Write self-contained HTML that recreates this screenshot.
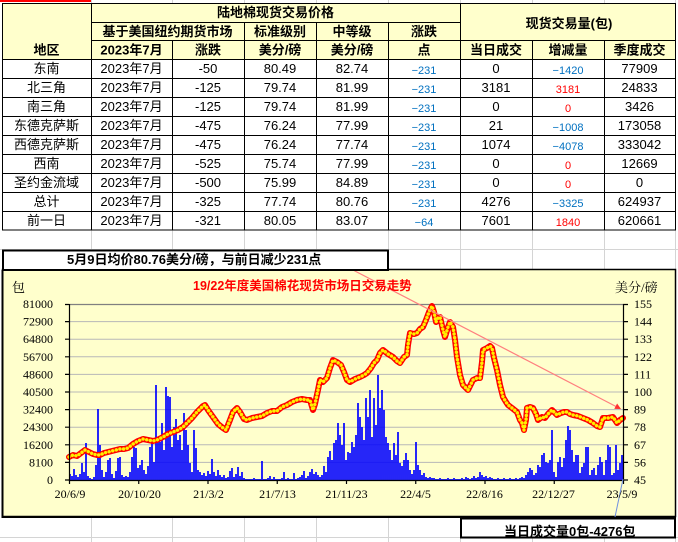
<!DOCTYPE html>
<html><head><meta charset="utf-8"><style>
html,body{margin:0;padding:0;background:#fff;width:678px;height:542px;overflow:hidden}
svg{display:block}
.t{font-family:"Liberation Sans","Noto Sans CJK SC",sans-serif;font-size:13px;fill:#000}
.b{font-weight:bold}
.s{font-family:"Liberation Sans","Noto Sans CJK SC",sans-serif;font-size:11px}
.ax{font-family:"Liberation Serif","Noto Serif CJK SC",serif;font-size:12px;fill:#000}
</style></head><body>
<svg width="678" height="542" viewBox="0 0 678 542" xmlns="http://www.w3.org/2000/svg">
<defs>
<polyline id="pl" fill="none" points="69,457 73,455 77,456 81,453 85,450 89,452 93,454 97,455 100,455 104,453 108,452 112,451 116,450 120,449 124,449 128,448 133,444 138,441 143,439 148,440 153,441 157,440 163,437 168,434 173,432 178,430 183,427 187,423 192,418 197,412 203,406 205,405 208,410 213,417 218,424 223,428 226,430 230,420 233,412 237,408 240,412 244,419 247,420 252,418 257,417 262,416 267,413 272,411 277,411 282,407 287,405 292,402 297,400 302,399 307,400 310,400 313,410 315,404 318,390 320,380 323,382 327,378 330,368 333,360 337,362 341,365 344,372 347,380 350,382 355,379 360,377 364,375 367,373 371,368 374,363 377,360 380,353 383,350 388,354 393,357 397,361 400,363 404,357 407,355 408,345 410,333 414,334 417,333 420,329 423,327 426,320 429,312 432,306 434,312 436,322 438,318 440,317 443,330 445,337 448,327 450,322 453,327 455,340 457,357 460,375 463,385 465,387 468,390 471,384 473,380 477,378 480,378 482,362 483,350 487,348 490,346 492,348 494,358 497,370 500,385 503,397 506,402 508,405 512,408 517,412 520,420 522,423 524,430 526,420 527,408 530,407 533,408 536,414 538,420 542,417 545,418 548,414 552,410 555,413 557,415 561,413 564,412 567,412 570,414 573,415 578,416 583,418 588,420 593,423 597,426 600,427 603,418 608,418 613,417 615,420 617,423 620,420 623,418"/>
</defs>
<!-- spreadsheet gridlines -->
<g stroke="#d4d4d4" stroke-width="1">
<path d="M91.5 0V542M172.5 0V542M244.5 0V542M316.5 0V542M388.5 0V542M460.5 0V542M532.5 0V542M604.5 0V542M675.5 0V542"/>
<path d="M0 249.5H678M0 537.5H678"/>
</g>
<rect x="0" y="0" width="91" height="2" fill="#ff0000"/>
<!-- table header fill -->
<rect x="2.5" y="3.5" width="673" height="55.5" fill="#ffffcc"/>
<rect x="2.5" y="59" width="673" height="171" fill="#ffffff"/>
<!-- table lines -->
<g stroke="#000" stroke-width="1" fill="none">
<rect x="2.5" y="3.5" width="673" height="226.5"/>
<path d="M91.5 3V230M460.5 3V230"/>
<path d="M172.5 40V230M244.5 22V230M316.5 22V230M388.5 22V230M532.5 40V230M604.5 40V230"/>
<path d="M91 22.5H460M91 40.5H676"/>
<path d="M2 59.5H676M2 78.5H676M2 97.5H676M2 116.5H676M2 135.5H676M2 154.5H676M2 173.5H676M2 192.5H676M2 211.5H676"/>
</g>
<!-- header text -->
<g class="t b" text-anchor="middle">
<text x="275.5" y="17">陆地棉现货交易价格</text>
<text x="569" y="28">现货交易量(包)</text>
<text x="167.5" y="36">基于美国纽约期货市场</text>
<text x="280" y="36">标准级别</text>
<text x="352" y="36">中等级</text>
<text x="424" y="36">涨跌</text>
<text x="46.5" y="54.5">地区</text>
<text x="131.5" y="54.5">2023年7月</text>
<text x="208" y="54.5">涨跌</text>
<text x="280" y="54.5">美分/磅</text>
<text x="352" y="54.5">美分/磅</text>
<text x="424" y="54.5">点</text>
<text x="496" y="54.5">当日成交</text>
<text x="568" y="54.5">增减量</text>
<text x="639.5" y="54.5">季度成交</text>
</g>
<!-- data -->
<g class="t" text-anchor="middle">
<text x="46.5" y="73">东南</text><text x="131.5" y="73">2023年7月</text><text x="208" y="73">-50</text><text x="280" y="73">80.49</text><text x="352" y="73">82.74</text><text x="496" y="73">0</text><text x="639.5" y="73">77909</text>
<text x="46.5" y="92">北三角</text><text x="131.5" y="92">2023年7月</text><text x="208" y="92">-125</text><text x="280" y="92">79.74</text><text x="352" y="92">81.99</text><text x="496" y="92">3181</text><text x="639.5" y="92">24833</text>
<text x="46.5" y="111">南三角</text><text x="131.5" y="111">2023年7月</text><text x="208" y="111">-125</text><text x="280" y="111">79.74</text><text x="352" y="111">81.99</text><text x="496" y="111">0</text><text x="639.5" y="111">3426</text>
<text x="46.5" y="130">东德克萨斯</text><text x="131.5" y="130">2023年7月</text><text x="208" y="130">-475</text><text x="280" y="130">76.24</text><text x="352" y="130">77.99</text><text x="496" y="130">21</text><text x="639.5" y="130">173058</text>
<text x="46.5" y="149">西德克萨斯</text><text x="131.5" y="149">2023年7月</text><text x="208" y="149">-475</text><text x="280" y="149">76.24</text><text x="352" y="149">77.74</text><text x="496" y="149">1074</text><text x="639.5" y="149">333042</text>
<text x="46.5" y="168">西南</text><text x="131.5" y="168">2023年7月</text><text x="208" y="168">-525</text><text x="280" y="168">75.74</text><text x="352" y="168">77.99</text><text x="496" y="168">0</text><text x="639.5" y="168">12669</text>
<text x="46.5" y="187">圣约金流域</text><text x="131.5" y="187">2023年7月</text><text x="208" y="187">-500</text><text x="280" y="187">75.99</text><text x="352" y="187">84.89</text><text x="496" y="187">0</text><text x="639.5" y="187">0</text>
<text x="46.5" y="206">总计</text><text x="131.5" y="206">2023年7月</text><text x="208" y="206">-325</text><text x="280" y="206">77.74</text><text x="352" y="206">80.76</text><text x="496" y="206">4276</text><text x="639.5" y="206">624937</text>
<text x="46.5" y="225">前一日</text><text x="131.5" y="225">2023年7月</text><text x="208" y="225">-321</text><text x="280" y="225">80.05</text><text x="352" y="225">83.07</text><text x="496" y="225">7601</text><text x="639.5" y="225">620661</text>
</g>
<g class="s" text-anchor="middle" fill="#0070c0">
<text x="424" y="74">−231</text><text x="424" y="93">−231</text><text x="424" y="112">−231</text><text x="424" y="131">−231</text><text x="424" y="150">−231</text><text x="424" y="169">−231</text><text x="424" y="188">−231</text><text x="424" y="207">−231</text><text x="424" y="226">−64</text>
<text x="568" y="74">−1420</text><text x="568" y="131">−1008</text><text x="568" y="150">−4078</text><text x="568" y="207">−3325</text>
</g>
<g class="s" text-anchor="middle" fill="#ff0000">
<text x="568" y="93">3181</text><text x="568" y="112">0</text><text x="568" y="169">0</text><text x="568" y="188">0</text><text x="568" y="226">1840</text>
</g>

<!-- chart -->
<rect x="2.5" y="269.5" width="673" height="247" fill="#ffffcc" stroke="#000" stroke-width="1.5"/>
<path d="M2.5 270V517H676" stroke="#000" stroke-width="2" fill="none"/>
<!-- gridlines -->
<g stroke="#b8b8b8" stroke-width="1">
<path d="M69 321.6H623M69 339.2H623M69 356.8H623M69 374.4H623M69 392H623M69 409.6H623M69 427.2H623M69 444.8H623M69 462.4H623"/>
</g>
<path d="M69 304.5H623" stroke="#808080" stroke-width="1.2"/>
<!-- bars -->
<path stroke="#0000ff" stroke-width="1.7" fill="none" d="M70 474V480M72 476V480M74 469V480M76 475V480M78 477V480M80 474V480M82 463V480M84 472V480M86 443V480M88 476V480M90 478V480M92 479V480M94 477V480M96 465V480M98 409V480M100 445V480M102 470V480M104 477V480M106 472V480M108 460V480M110 458V480M112 474V480M114 478V480M116 471V480M118 458V480M120 457V480M122 475V480M124 477V480M126 476V480M128 477V480M130 472V480M132 457V480M134 447V480M136 448V480M138 468V480M140 465V480M142 460V480M144 470V480M146 474V480M148 466V480M150 447V480M152 443V480M154 462V480M156 385V480M158 440V480M160 442V480M162 423V480M164 450V480M166 387V480M168 396V480M170 397V480M172 447V480M174 427V480M176 419V480M178 440V480M180 435V480M182 450V480M184 413V480M186 430V480M188 445V480M190 463V480M192 472V480M194 430V480M196 448V480M198 470V480M200 472V480M202 475V480M204 473V480M206 476V480M208 471V480M210 474V480M212 459V480M214 472V480M216 476V480M218 470V480M220 475V480M222 477V480M224 475V480M226 478V480M228 477V480M230 471V480M232 468V480M234 477V480M236 474V480M238 467V480M240 476V480M242 472V480M244 478V480M246 479V480M248 479V480M250 479V480M252 479V480M254 478V480M256 479V480M258 479V480M260 479V480M262 461V480M264 479V480M266 479V480M268 478V480M270 476V480M272 479V480M274 477V480M276 479V480M278 479V480M280 479V480M282 478V480M284 472V480M286 479V480M288 478V480M290 479V480M292 479V480M294 473V480M296 479V480M298 478V480M300 477V480M302 475V480M304 471V480M306 478V480M308 476V480M310 472V480M312 469V480M314 474V480M316 472V480M318 475V480M320 477V480M322 475V480M324 466V480M326 472V480M328 457V480M330 451V480M332 460V480M334 443V480M336 440V480M338 423V480M340 435V480M342 445V480M344 423V480M346 460V480M348 452V480M350 453V480M352 442V480M354 447V480M356 435V480M358 403V480M360 417V480M362 427V480M364 440V480M366 398V480M368 417V480M370 390V480M372 437V480M374 398V480M376 425V480M378 375V480M380 408V480M382 390V480M384 410V480M386 437V480M388 443V480M390 450V480M392 460V480M394 443V480M396 455V480M398 432V480M400 463V480M402 466V480M404 460V480M406 453V480M408 460V480M410 470V480M412 474V480M414 470V480M416 442V480M418 465V480M420 470V480M422 475V480M424 473V480M426 477V480M428 478V480M430 477V480M432 478V480M434 478V480M436 479V480M438 479V480M440 478V480M442 479V480M444 479V480M446 479V480M448 478V480M450 479V480M452 479V480M454 478V480M456 479V480M458 479V480M460 479V480M462 478V480M464 479V480M466 477V480M468 478V480M470 479V480M472 478V480M474 476V480M476 478V480M478 477V480M480 472V480M482 475V480M484 477V480M486 476V480M488 478V480M490 477V480M492 478V480M494 479V480M496 479V480M498 478V480M500 479V480M502 479V480M504 478V480M506 479V480M508 479V480M510 478V480M512 479V480M514 479V480M516 478V480M518 479V480M520 478V480M522 477V480M524 478V480M526 475V480M528 472V480M530 468V480M532 470V480M534 475V480M536 473V480M538 465V480M540 467V480M542 455V480M544 453V480M546 462V480M548 463V480M550 460V480M552 430V480M554 472V480M556 477V480M558 462V480M560 457V480M562 467V480M564 458V480M566 440V480M568 426V480M570 430V480M572 450V480M574 462V480M576 455V480M578 455V480M580 473V480M582 467V480M584 463V480M586 447V480M588 447V480M590 475V480M592 470V480M594 468V480M596 475V480M598 465V480M600 457V480M602 462V480M604 475V480M606 460V480M608 445V480M610 447V480M612 475V480M614 473V480M616 445V480M618 470V480M620 463V480M622 455V480"/>
<!-- price line -->
<use href="#pl" stroke="#ff0000" stroke-width="6" stroke-linejoin="round" stroke-linecap="round"/>
<use href="#pl" stroke="#ffee00" stroke-width="3.4" stroke-dasharray="0.1 3.6" stroke-linejoin="round" stroke-linecap="round"/>
<!-- axes -->
<g stroke="#000" stroke-width="1.2" fill="none">
<path d="M69.5 304V480.5H623.5V304"/>
<path d="M65 304.5H69M65 321.6H69M65 339.2H69M65 356.8H69M65 374.4H69M65 392H69M65 409.6H69M65 427.2H69M65 444.8H69M65 462.4H69M65 480H69"/>
<path d="M623 304.5H628M623 321.6H628M623 339.2H628M623 356.8H628M623 374.4H628M623 392H628M623 409.6H628M623 427.2H628M623 444.8H628M623 462.4H628M623 480H628"/>
<path d="M69.5 480V484M138.75 480V484M208 480V484M277.25 480V484M346.5 480V484M415.75 480V484M485 480V484M554.25 480V484M623.5 480V484"/>
</g>
<!-- trend line -->
<line x1="353" y1="270" x2="616" y2="406.5" stroke="#ff7f7f" stroke-width="1.2"/>
<polygon points="621,409 614.3,408.9 617.1,403.5" fill="#ff3030"/>
<line x1="623" y1="479" x2="615" y2="517" stroke="#7090e0" stroke-width="1"/>
<!-- axis labels -->
<g class="ax" text-anchor="end">
<text x="53" y="308">81000</text><text x="53" y="325.6">72900</text><text x="53" y="343.2">64800</text><text x="53" y="360.8">56700</text><text x="53" y="378.4">48600</text><text x="53" y="396">40500</text><text x="53" y="413.6">32400</text><text x="53" y="431.2">24300</text><text x="53" y="448.8">16200</text><text x="53" y="466.4">8100</text><text x="53" y="484">0</text>
</g>
<g class="ax">
<text x="634" y="308">155</text><text x="634" y="325.6">144</text><text x="634" y="343.2">133</text><text x="634" y="360.8">122</text><text x="634" y="378.4">111</text><text x="634" y="396">100</text><text x="634" y="413.6">89</text><text x="634" y="431.2">78</text><text x="634" y="448.8">67</text><text x="634" y="466.4">56</text><text x="634" y="484">45</text>
</g>
<g class="ax" text-anchor="middle">
<text x="70" y="498">20/6/9</text><text x="139.5" y="498">20/10/20</text><text x="208.5" y="498">21/3/2</text><text x="277.5" y="498">21/7/13</text><text x="346.5" y="498">21/11/23</text><text x="415.5" y="498">22/4/5</text><text x="484.5" y="498">22/8/16</text><text x="553.5" y="498">22/12/27</text><text x="622" y="498">23/5/9</text>
</g>
<text class="ax" x="12" y="292" style="font-size:13px">包</text>
<text class="ax" x="615" y="292" style="font-size:13px">美分/磅</text>
<text x="193" y="290" fill="#ff0000" font-weight="bold" style="font-family:'Liberation Sans','Noto Sans CJK SC',sans-serif;font-size:12.5px">19/22年度美国棉花现货市场日交易走势</text>
<!-- title box -->
<rect x="3" y="250.5" width="385" height="19.5" fill="#fff" stroke="#000" stroke-width="2"/>
<text class="t b" x="67" y="269" dy="-5">5月9日均价80.76美分/磅，与前日减少231点</text>
<!-- bottom box -->
<rect x="461" y="518.5" width="214" height="19" fill="#fff" stroke="#000" stroke-width="2"/>
<text class="t b" x="504" y="536">当日成交量0包-4276包</text>
</svg>
</body></html>
